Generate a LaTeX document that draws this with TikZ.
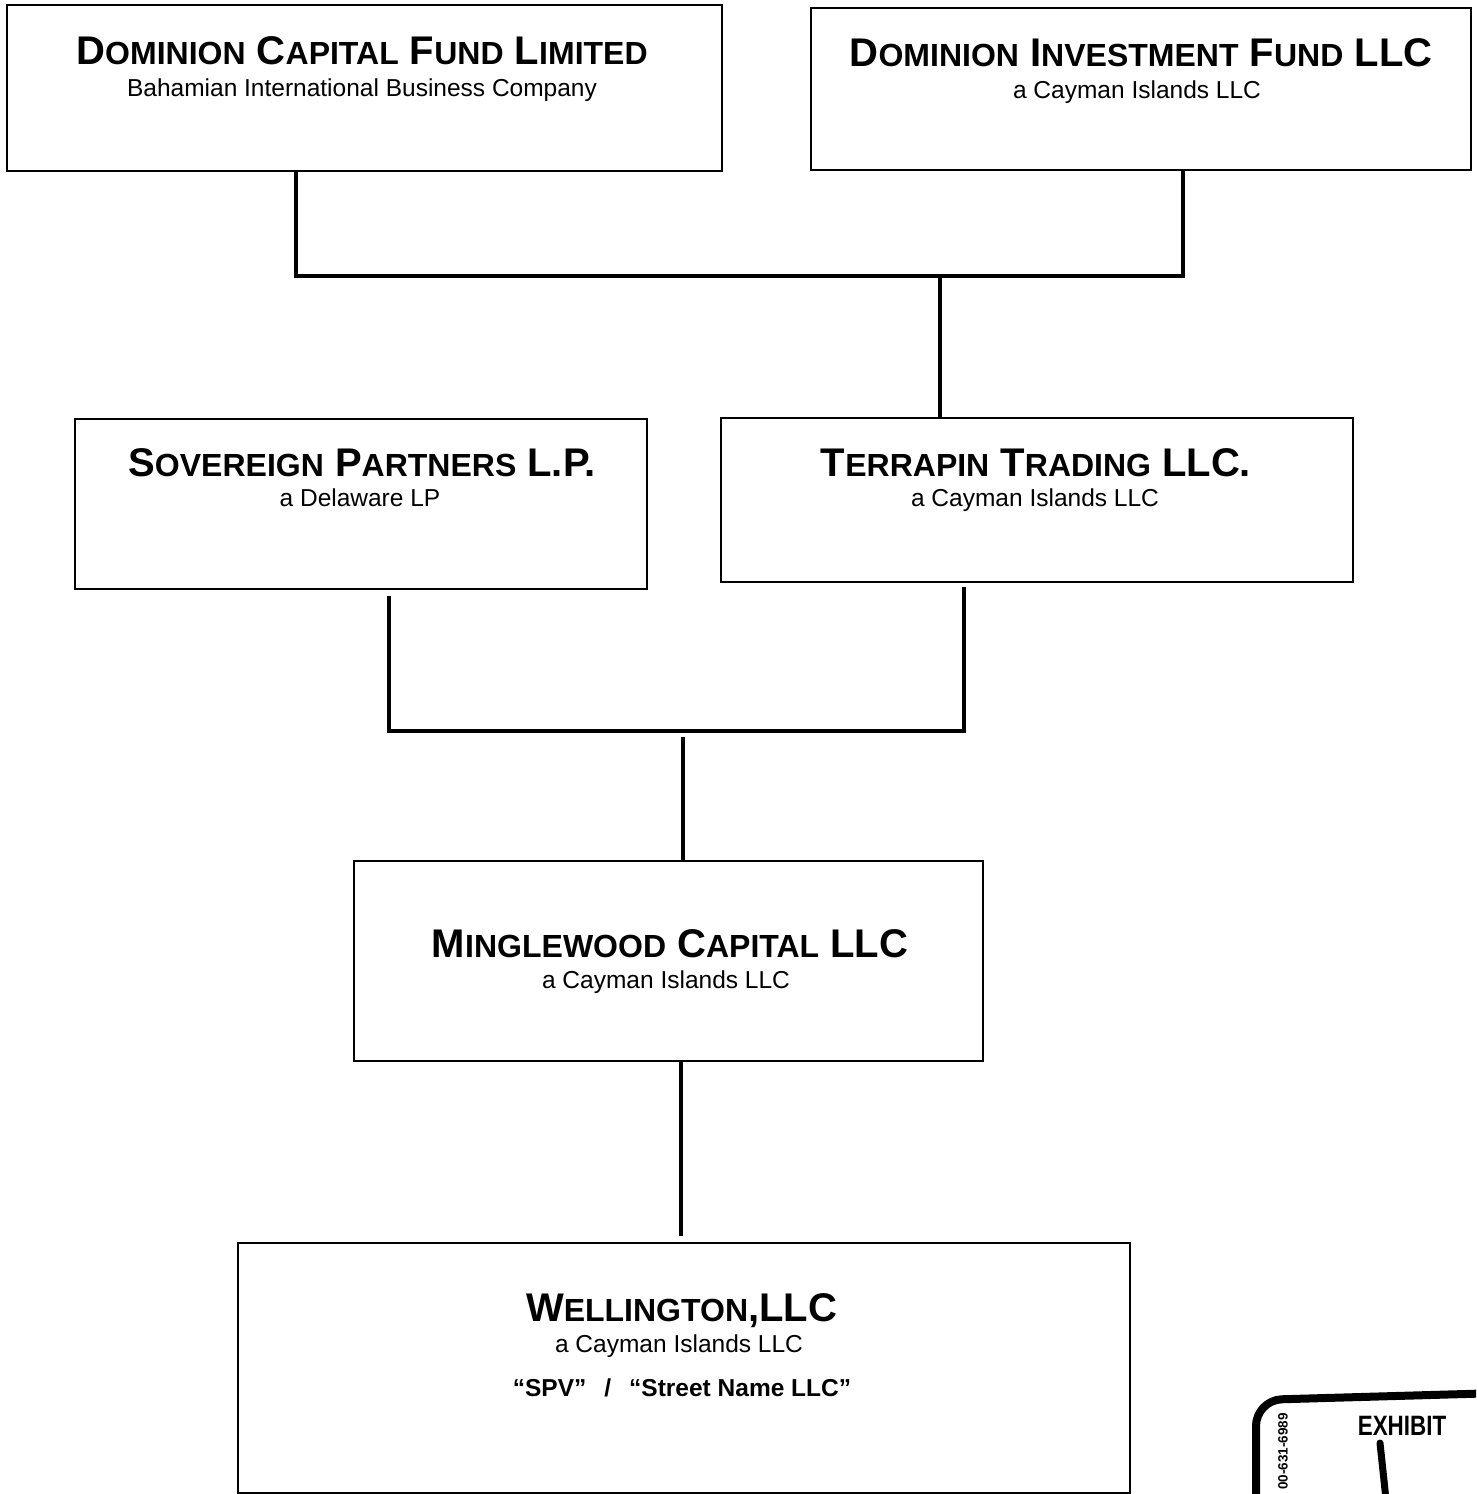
\documentclass[tikz,border=0pt]{standalone}
\usepackage{fontspec}
\setmainfont{Liberation Sans}
\newcommand\capsc[2]{#1{\fontsize{32}{32}\selectfont #2}}
\begin{document}
\begin{tikzpicture}[x=1pt,y=-1pt,
  box/.style={draw=black,line width=2pt,inner sep=0pt},
  conn/.style={draw=black,line width=4.5pt},
  ttl/.style={anchor=base,inner sep=0pt,font=\fontsize{40}{40}\selectfont\bfseries},
  sub/.style={anchor=base,inner sep=0pt,font=\fontsize{24.5}{24.5}\selectfont},
  subb/.style={anchor=base,inner sep=0pt,font=\fontsize{24.5}{24.5}\selectfont\bfseries}]
\useasboundingbox (0,0) rectangle (1476,1494);
% boxes
\node[box,minimum width=715pt,minimum height=166pt] (dcfl) at (364.5,88) {};
\node[box,minimum width=660pt,minimum height=162pt] (difl) at (1141,89) {};
\node[box,minimum width=572pt,minimum height=170pt] (sov) at (361,504) {};
\node[box,minimum width=632pt,minimum height=164pt] (ter) at (1037,500) {};
\node[box,minimum width=629pt,minimum height=200pt] (min) at (668.5,961) {};
\node[box,minimum width=892pt,minimum height=250pt] (wel) at (684,1368) {};
% texts
\node[ttl] (dcflt) at (362,64) {\capsc{D}{OMINION} \capsc{C}{APITAL} \capsc{F}{UND} \capsc{L}{IMITED}};
\node[sub] (dcfls) at (362,96) {Bahamian International Business Company};
\node[ttl] (diflt) at (1141,66) {\capsc{D}{OMINION} \capsc{I}{NVESTMENT} \capsc{F}{UND} LLC};
\node[sub] (difls) at (1137,98) {a Cayman Islands LLC};
\node[ttl] (sovt) at (362,476) {\capsc{S}{OVEREIGN} \capsc{P}{ARTNERS} L.P.};
\node[sub] (sovs) at (360,506) {a Delaware LP};
\node[ttl] (tert) at (1036,476) {\capsc{T}{ERRAPIN} \capsc{T}{RADING} LLC.};
\node[sub] (ters) at (1035,506) {a Cayman Islands LLC};
\node[ttl] (mint) at (670,957) {\capsc{M}{INGLEWOOD} \capsc{C}{APITAL} LLC};
\node[sub] (mins) at (666,988) {a Cayman Islands LLC};
\node[ttl] (welt) at (681.5,1321) {\capsc{W}{ELLINGTON},LLC};
\node[sub] (wels) at (679,1352) {a Cayman Islands LLC};
\node[subb] (welq) at (682,1396) {``SPV''\hspace{18pt}/\hspace{18pt}``Street Name LLC''};
% connectors
\coordinate (j1) at (940,276);
\coordinate (j2) at (683,731);
\draw[conn] ([xshift=-68.5pt]dcfl.south) |- (j1) -| ([xshift=42pt]difl.south);
\draw[conn] (j1) -- (j1 |- ter.north);
\draw[conn] ([xshift=28pt,yshift=-6pt]sov.south) |- (j2) -| ([xshift=-73pt,yshift=-4pt]ter.south);
\draw[conn] ([yshift=-6pt]j2) -- (j2 |- min.north);
\coordinate (j3) at (681,1236);
\draw[conn] (min.south -| j3) -- (j3);
% exhibit stamp
\begin{scope}
\clip (0,0) rectangle (1476,1494);
\draw[line width=8pt,rounded corners=26pt] (1256,1520) -- (1256,1400) -- (1500,1393);
\node[inner sep=0pt,font=\fontsize{28}{28}\selectfont\bfseries,xscale=0.8] (exh) at (1402,1426) {EXHIBIT};
\node[inner sep=0pt,rotate=90,anchor=east,font=\fontsize{13.5}{13.5}\selectfont\bfseries] (phone) at (1283,1413) {00-631-6989};
\draw[line width=7pt,line cap=round] (1380,1443) .. controls (1382,1462) and (1384,1480) .. (1386,1500);
\end{scope}
\end{tikzpicture}
\end{document}
